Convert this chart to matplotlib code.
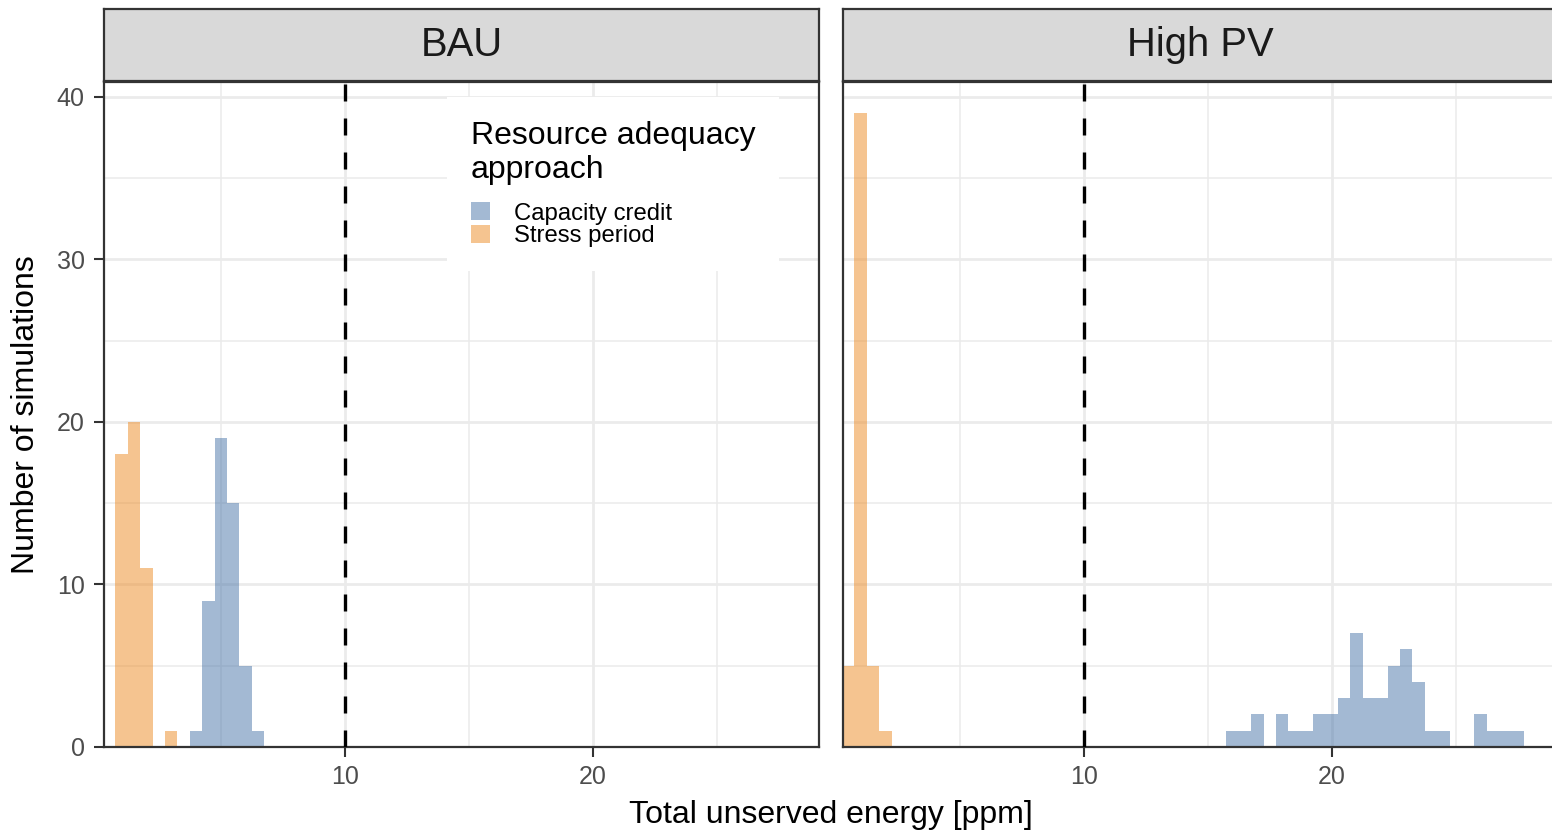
import numpy as np
import matplotlib
matplotlib.use("Agg")
import matplotlib.pyplot as plt
from matplotlib.ticker import MultipleLocator, FixedLocator
from matplotlib.patches import Patch

plt.rcParams["font.family"] = ["Liberation Sans", "DejaVu Sans"]

# ── data (histogram bins of width 0.5) ──────────────────────────────────────
BIN_WIDTH = 0.5
panels = ["BAU", "High PV"]
approaches = ["Capacity credit", "Stress period"]

bau_cc_centers = [4.0, 4.5, 5.0, 5.5, 6.0, 6.5]
bau_cc_counts = [1, 9, 19, 15, 5, 1]
bau_sp_centers = [1.0, 1.5, 2.0, 2.5, 3.0]
bau_sp_counts = [18, 20, 11, 0, 1]

hpv_cc_centers = [16.0, 16.5, 17.0, 17.5, 18.0, 18.5, 19.0, 19.5, 20.0, 20.5,
                  21.0, 21.5, 22.0, 22.5, 23.0, 23.5, 24.0, 24.5, 25.0, 25.5,
                  26.0, 26.5, 27.0, 27.5]
hpv_cc_counts = [1, 1, 2, 0, 2, 1, 1, 2, 2, 3,
                 7, 3, 3, 5, 6, 4, 1, 1, 0, 0,
                 2, 1, 1, 1]
hpv_sp_centers = [0.5, 1.0, 1.5, 2.0]
hpv_sp_counts = [5, 39, 5, 1]

threshold = 10

# ── style ───────────────────────────────────────────────────────────────────
COLORS = {"Capacity credit": "#4975A9", "Stress period": "#ED8B23"}
ALPHA = 0.5
GRID = "#EBEBEB"
DARK = "#333333"
W, H = 1552, 831

fig = plt.figure(figsize=(W / 100, H / 100), dpi=100)


def fx(px):
    return px / W


def fy(px):
    return 1 - px / H


pan_top, pan_bot = 82, 747
lefts = [104, 843]
pw = 715
data = {
    "BAU": [(bau_cc_centers, bau_cc_counts), (bau_sp_centers, bau_sp_counts)],
    "High PV": [(hpv_cc_centers, hpv_cc_counts), (hpv_sp_centers, hpv_sp_counts)],
}

axes = []
for i, (name, lx) in enumerate(zip(panels, lefts)):
    ax = fig.add_axes([fx(lx), fy(pan_bot), pw / W, (pan_bot - pan_top) / H])
    axes.append(ax)
    ax.set_axisbelow(True)
    for appr, (c, n) in zip(approaches, data[name]):
        ax.bar(c, n, width=BIN_WIDTH, color=COLORS[appr], alpha=ALPHA,
               linewidth=0, label=appr)
    ax.axvline(threshold, color="black", lw=2.4, linestyle=(0, (5.1, 5.1)), zorder=3)

    ax.set_xlim(0.29, 29.12)
    ax.set_ylim(0, 40.92)
    ax.xaxis.set_major_locator(FixedLocator([10, 20]))
    ax.xaxis.set_minor_locator(FixedLocator([5, 15, 25]))
    ax.yaxis.set_major_locator(MultipleLocator(10))
    ax.yaxis.set_minor_locator(MultipleLocator(5))
    ax.grid(which="major", color=GRID, lw=2.0)
    ax.grid(which="minor", color=GRID, lw=1.1)
    ax.tick_params(which="major", length=7, width=1.5, color=DARK,
                   labelsize=18, labelcolor="#4D4D4D")
    ax.tick_params(axis="x", pad=6)
    ax.tick_params(axis="y", pad=7)
    ax.tick_params(which="minor", length=0)
    if i > 0:
        ax.tick_params(axis="y", left=False, labelleft=False)
    for s in ax.spines.values():
        s.set_color(DARK)
        s.set_linewidth(1.6)

    # facet strip
    sx = fig.add_axes([fx(lx), fy(81), pw / W, 72 / H])
    sx.set_facecolor("#D9D9D9")
    sx.set_xticks([])
    sx.set_yticks([])
    for s in sx.spines.values():
        s.set_color(DARK)
        s.set_linewidth(1.6)
    sx.text(0.5, 0.5, name, ha="center", va="center", fontsize=28.8,
            color="#1A1A1A", transform=sx.transAxes)

handles = [Patch(facecolor=COLORS[a], alpha=ALPHA, linewidth=0) for a in approaches]
leg = axes[0].legend(handles, approaches, title="Resource adequacy\napproach",
                     loc="upper left", bbox_to_anchor=(fx(447), fy(97)),
                     bbox_transform=fig.transFigure, frameon=True,
                     fontsize=17.2, title_fontsize=23, alignment="left",
                     handlelength=0.8, handleheight=0.8, handletextpad=1.0,
                     labelspacing=0.0, borderpad=1.0, borderaxespad=0,
                     fancybox=False)
leg._legend_box.sep = 12  # extra gap between title and keys (points)
leg.get_frame().set_facecolor("white")
leg.get_frame().set_edgecolor("none")
leg.get_frame().set_alpha(1)

fig.text(fx(26), fy((pan_top + pan_bot) / 2), "Number of simulations",
         rotation=90, ha="center", va="center", fontsize=23)
fig.text(fx(831), fy(823), "Total unserved energy [ppm]",
         ha="center", va="baseline", fontsize=23)

fig.savefig("out.png", dpi=100)
